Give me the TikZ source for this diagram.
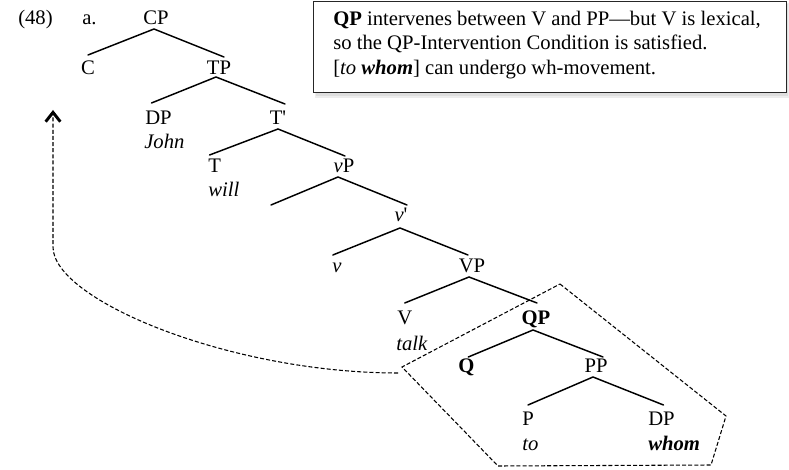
\documentclass[tikz,border=0pt]{standalone}
\usepackage{fontspec}
\setmainfont{Liberation Serif}[Ligatures=TeXOff]
\usetikzlibrary{arrows.meta,calc}
\begin{document}
\begin{tikzpicture}[x=0.75pt,y=-0.75pt,
  lbl/.style={inner sep=0pt,anchor=base,font=\fontsize{15.5}{18}\selectfont},
  lbll/.style={lbl,anchor=base west},
  branch/.style={line width=1.1pt,line cap=round},
  movedash/.style={line width=0.8pt,dash pattern=on 3pt off 1.6pt},
  notebox/.style={draw=black!85,line width=0.8pt,fill=white,inner sep=0pt,
    minimum width=354.75pt,minimum height=68.25pt,anchor=north west},
]
\useasboundingbox (0,0) rectangle (789,470);

% ---------- note box ----------
\fill[black!7] (315,3) rectangle (789,98);
\fill[black!13] (316,4) rectangle (788,96);
\node[notebox] (note) at (313,1) {};
\node[lbll] (l1) at (333,26) {\textbf{QP} intervenes between V and PP—but V is lexical,};
\node[lbll] (l2) at (333,50) {so the QP-Intervention Condition is satisfied.};
\node[lbll] (l3) at (333,75) {[\textit{to} \textbf{\textit{whom}}] can undergo wh-movement.};

% ---------- labels ----------
\node[lbll] (ex) at (18,25) {(48)};
\node[lbll] (a) at (82,25) {a.};
\node[lbl] (CP) at (156,25) {CP};
\node[lbl] (C) at (88,75) {C};
\node[lbl] (TP) at (219,75) {TP};
\node[lbll] (DP1) at (145,125) {DP};
\node[lbll] (john) at (144,149) {\textit{John}};
\node[lbl] (Tbar) at (278,125) {T'};
\node[lbll] (T) at (208,173) {T};
\node[lbll] (will) at (208,197) {\textit{will}};
\node[lbl] (vP) at (344,173) {\textit{v}P};
\coordinate (vPspec) at (271,205);
\node[lbl] (vbar) at (401,222) {\textit{v}'};
\node[lbll] (v) at (332,273) {\textit{v}};
\node[lbl] (VP) at (472,273) {VP};
\node[lbll] (V) at (397,325) {V};
\node[lbll] (talk) at (396,350) {\textit{talk}};
\node[lbl] (QP) at (536,325) {\textbf{QP}};
\node[lbll] (Q) at (458,373) {\textbf{Q}};
\node[lbl] (PP) at (596,373) {PP};
\node[lbll] (P) at (522,425) {P};
\node[lbll] (to) at (522,450) {\textit{to}};
\node[lbll] (DP2) at (648,425) {DP};
\node[lbll] (whom) at (648,450) {\textbf{\textit{whom}}};

% ---------- branches ----------
\draw[branch] ($(C.base)+(0,-20)$) -- ($(CP.base)+(-2,4)$) -- ($(TP.base)+(5,-18)$);
\draw[branch] ($(DP1.base)+(-7,-22)$) -- ($(TP.base)+(-3,2)$) -- ($(Tbar.base)+(7,-21)$);
\draw[branch] ($(T.base)+(-5,-18)$) -- ($(Tbar.base)+(0,4)$) -- ($(vP.base)+(1,-17)$);
\draw[branch] (vPspec) -- ($(vP.base)+(-6,4)$) -- ($(vbar.base)+(6,-17)$);
\draw[branch] ($(v.base)+(-4,-18)$) -- ($(vbar.base)+(-1,6)$) -- ($(VP.base)+(-4,-18)$);
\draw[branch] ($(V.base)+(0,-22)$) -- ($(VP.base)+(-3,4)$) -- ($(QP.base)+(1,-22)$);
\draw[branch] ($(Q.base)+(2,-16)$) -- ($(QP.base)+(-3,5)$) -- ($(PP.base)+(7,-16)$);
\draw[branch] ($(P.base)+(0,-20)$) -- ($(PP.base)+(-3,4)$) -- ($(DP2.base)+(2,-20)$);

% ---------- dashed pentagon and movement arrow ----------
\coordinate (pTop) at (560,284);
\coordinate (pRight) at (726,416);
\coordinate (pBR) at (711,465);
\coordinate (pBL) at (498,466);
\coordinate (pLeft) at (402,367);
\draw[movedash] (pTop) -- (pRight) -- (pBR) -- (pBL) -- (pLeft) -- cycle;

\coordinate (mvStart) at (398,373);
\coordinate (mvCorner) at (53,247);
\coordinate (mvTip) at (53,110);
\draw[movedash,-{Straight Barb[length=7pt,width=11pt,line width=2.2pt]}]
  (mvStart) .. controls (230,373) and (53,300) .. (mvCorner) -- (mvTip);
\end{tikzpicture}
\end{document}
